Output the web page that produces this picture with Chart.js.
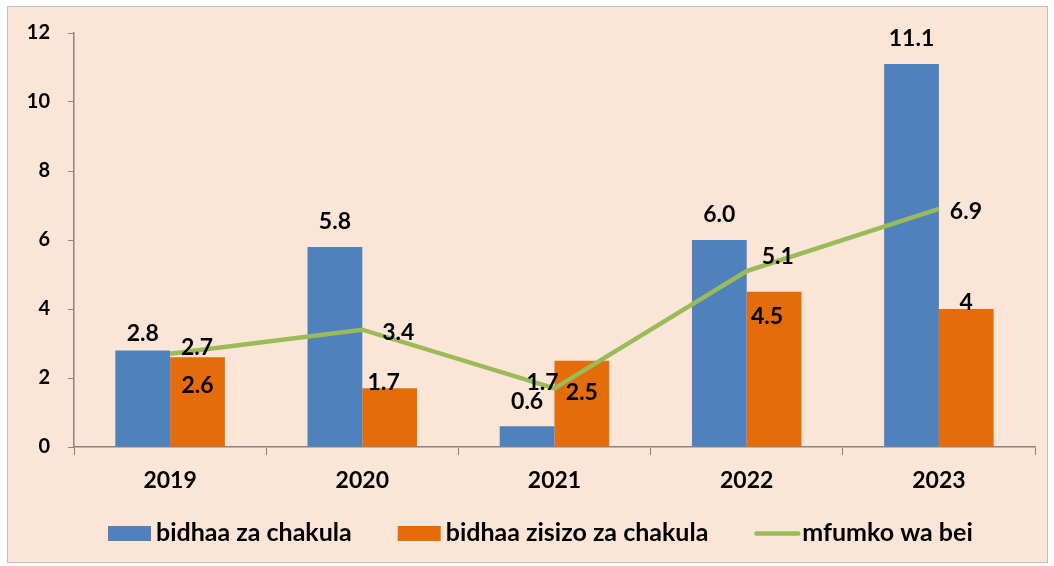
<!DOCTYPE html>
<html>
<head>
<meta charset="utf-8">
<script src="https://cdn.jsdelivr.net/npm/chart.js@4/dist/chart.umd.min.js"></script>
<style>
  body { margin: 0; background: #fff; }
  #box {
    position: absolute; left: 7px; top: 6px;
    width: 1039px; height: 555px;
    border: 1px solid #bfbfbf;
    background: #fbe5d6;
  }
</style>
</head>
<body>
<div id="box"><canvas id="chart" width="1039" height="555"></canvas></div>
<script>
var years = ["2019", "2020", "2021", "2022", "2023"];
var chakula = [2.8, 5.8, 0.6, 6.0, 11.1];
var zisizo = [2.6, 1.7, 2.5, 4.5, 4];
var mfumko = [2.7, 3.4, 1.7, 5.1, 6.9];
var yTicks = [0, 2, 4, 6, 8, 10, 12];

var FONT = "Lato, 'Open Sans', sans-serif";

// how the value labels sit next to their marks
var labelPlace = [
  { dx: [0, 0, 0, 0, 0], dy: [-17, -25, -25, -25, -25] },
  { dx: [0, -6, 0, -7, 0], dy: [28, -6, 32, 25, -6] },
  { dx: [27, 36, -12, 31, 27], dy: [-6, 3, -6, -14, 3] }
];

var valueLabels = {
  id: "valueLabels",
  afterDatasetsDraw: function (chart) {
    var ctx = chart.ctx;
    ctx.save();
    ctx.font = "bold 23px " + FONT;
    ctx.fillStyle = "#000";
    ctx.textAlign = "center";
    ctx.textBaseline = "middle";
    chart.data.datasets.forEach(function (ds, i) {
      var meta = chart.getDatasetMeta(i);
      meta.data.forEach(function (el, j) {
        var v = ds.data[j];
        var txt = (i == 1 && v == 4) ? "4" : v.toFixed(1);
        ctx.fillText(txt, el.x + labelPlace[i].dx[j], el.y + labelPlace[i].dy[j]);
      });
    });
    ctx.restore();
  }
};

// legend sits left of centre in the original
var bottomLegend = {
  id: "bottomLegend",
  afterDraw: function (chart) {
    var ctx = chart.ctx;
    var x = chart.chartArea.left + 34;
    var y = 526.5;
    ctx.save();
    ctx.font = "bold 25px " + FONT;
    ctx.textBaseline = "alphabetic";
    chart.data.datasets.forEach(function (ds) {
      if (ds.type == "line") {
        ctx.strokeStyle = ds.borderColor;
        ctx.lineWidth = 4.5;
        ctx.lineCap = "round";
        ctx.beginPath();
        ctx.moveTo(x + 2, y);
        ctx.lineTo(x + 44, y);
        ctx.stroke();
        x += 48;
      } else {
        ctx.fillStyle = ds.backgroundColor;
        ctx.fillRect(x, y - 7.5, 43, 15);
        x += 48;
      }
      ctx.fillStyle = "#000";
      ctx.fillText(ds.label, x, y + 7.5);
      x += ctx.measureText(ds.label).width + 46;
    });
    ctx.restore();
  }
};

new Chart(document.getElementById("chart"), {
  type: "bar",
  data: {
    labels: years,
    datasets: [{
      label: "bidhaa za chakula",
      data: chakula,
      backgroundColor: "#4f81bd",
      order: 2
    }, {
      label: "bidhaa zisizo za chakula",
      data: zisizo,
      backgroundColor: "#e46c0a",
      order: 3
    }, {
      type: "line",
      label: "mfumko wa bei",
      data: mfumko,
      borderColor: "#9bbb59",
      backgroundColor: "#9bbb59",
      borderWidth: 4.5,
      pointRadius: 0,
      tension: 0,
      order: 1
    }]
  },
  options: {
    responsive: false,
    animation: false,
    layout: { padding: { top: 26, right: 12, left: 0, bottom: 68 } },
    datasets: {
      bar: { categoryPercentage: 0.57, barPercentage: 1, borderWidth: 0 }
    },
    plugins: {
      legend: { display: false },
      tooltip: { enabled: false }
    },
    scales: {
      x: {
        grid: { drawOnChartArea: false, tickLength: 8, color: "#868686", offset: true },
        border: { color: "#868686", width: 1.5 },
        ticks: { color: "#000", padding: 12, font: { family: FONT, size: 23, weight: "bold" } },
        afterFit: function (s) { s.height = 47; }
      },
      y: {
        min: 0, max: 12,
        afterBuildTicks: function (s) { s.ticks = yTicks.map(function (v) { return { value: v }; }); },
        grid: { drawOnChartArea: false, tickLength: 6, color: "#868686" },
        border: { color: "#868686", width: 1.5 },
        ticks: { color: "#000", padding: 18, font: { family: FONT, size: 20, weight: "bold" } },
        afterFit: function (s) { s.width = 66; s.paddingTop = 0; s.paddingBottom = 0; }
      }
    }
  },
  plugins: [valueLabels, bottomLegend]
});
</script>
</body>
</html>
